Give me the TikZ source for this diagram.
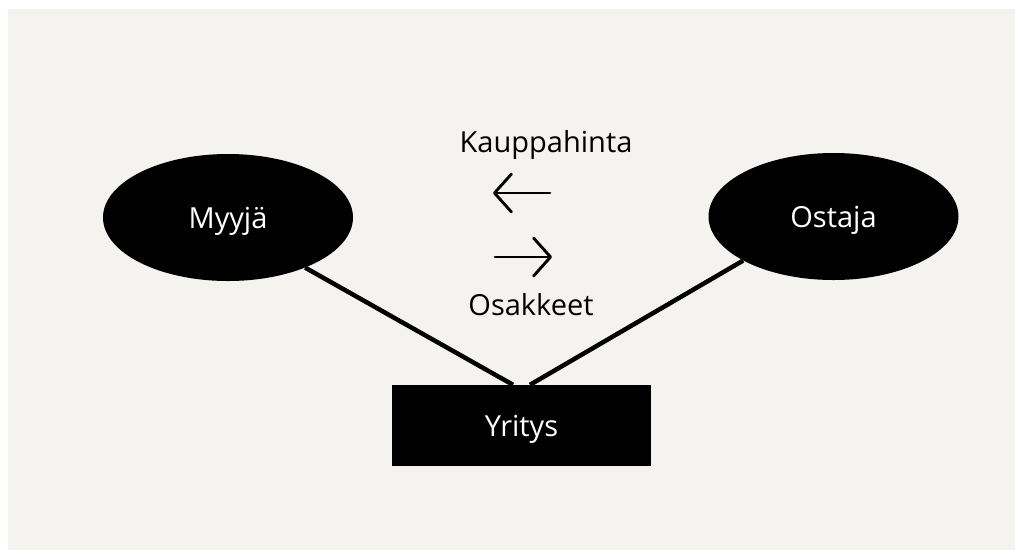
\documentclass[tikz,border=0pt]{standalone}
\usepackage{fontspec}
\setmainfont{Open Sans}
\usetikzlibrary{shapes.geometric,arrows.meta}
\definecolor{paper}{RGB}{244,243,240}
\tikzset{
 caps/.style={text height=21pt,text depth=0pt},
 party/.style={ellipse,fill=black,text=white,caps,minimum width=250pt,minimum height=127pt,inner sep=0pt},
 firm/.style={rectangle,fill=black,text=white,caps,minimum width=259pt,minimum height=81pt,inner sep=0pt},
 label/.style={text=black,caps,inner sep=0pt},
 tie/.style={line width=4.5pt},
 flow/.style={line width=2.9pt,line cap=round,-{Straight Barb[length=17pt,width=38pt,round]}}
}
\begin{document}
\begin{tikzpicture}[x=1pt,y=-1pt,font=\fontsize{29}{34}\selectfont]
 \useasboundingbox (0,0) rectangle (1015,550);
 \fill[paper] (8,9) rectangle (1015,550);
 \node[party] (myyja) at (228,217.5) {Myyjä};
 \node[party] (ostaja) at (833.5,216.5) {Ostaja};
 \node[firm] (yritys) at (521.5,425.5) {Yritys};
 \node[label] (hinta) at (546,142) {Kauppahinta};
 \node[label] (osakkeet) at (531,305) {Osakkeet};
 \coordinate (hintaA) at (550,193);
 \coordinate (hintaB) at (493,193);
 \coordinate (osakA) at (495,257);
 \coordinate (osakB) at (552,257);
 \draw[tie] (myyja.-33) -- ([xshift=-8.5pt]yritys.north);
 \draw[tie] (ostaja.206) -- ([xshift=8.5pt]yritys.north);
 \draw[flow] (hintaA) -- (hintaB);
 \draw[flow] (osakA) -- (osakB);
\end{tikzpicture}
\end{document}
